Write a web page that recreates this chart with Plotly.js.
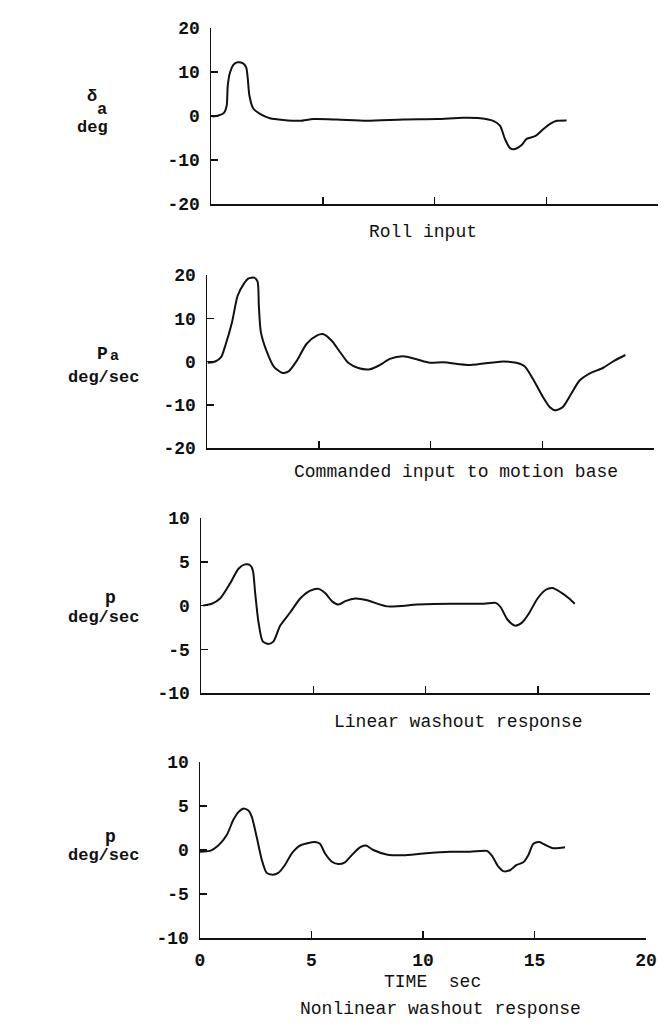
<!DOCTYPE html>
<html>
<head>
<meta charset="utf-8">
<script src="https://cdn.plot.ly/plotly-3.0.1.min.js"></script>
<style>html,body{margin:0;padding:0;background:#fff;}#chart{width:666px;height:1030px;}</style>
</head>
<body>
<div id="chart"></div>
<script>
// ---- Data ----
const rollTime = [0.07,0.33,0.58,0.70,0.75,0.85,1.0,1.18,1.42,1.57,1.64,1.72,1.89,2.19,2.64,3.24,3.98,4.58,5.62,6.96,8.6,10.1,11.29,12.04,12.63,12.93,13.15,13.38,13.6,13.9,14.12,14.5,14.8,15.17,15.47,15.91];
const rollInput = [-0.1,0.1,0.7,2.3,6.9,9.9,11.6,12.2,12.0,11.1,8.8,4.6,1.7,0.5,-0.5,-0.9,-1.1,-0.7,-0.8,-1.1,-0.8,-0.7,-0.4,-0.5,-1.1,-2.2,-5.2,-7.3,-7.5,-6.6,-5.2,-4.6,-3.3,-1.8,-1.1,-1.0];

const cmdTime = [0.03,0.37,0.63,0.82,1.12,1.37,1.64,1.86,2.11,2.26,2.32,2.41,2.68,2.98,3.35,3.65,4.02,4.46,4.91,5.21,5.58,5.95,6.32,6.77,7.29,7.74,8.18,8.78,9.38,9.97,10.57,11.76,13.24,13.84,14.21,14.58,15.03,15.33,15.6,15.92,16.29,16.67,17.11,17.71,18.23,18.72];
const cmdInput = [-0.3,0,1.0,3.7,9.1,15.2,17.9,19.2,19.4,18.5,12.9,6.8,2.2,-1.1,-2.6,-2.3,0.2,4.1,6.0,6.3,4.8,2.2,-0.3,-1.5,-1.8,-0.8,0.6,1.2,0.5,-0.3,-0.2,-0.8,0,-0.3,-1.1,-4.0,-8.2,-10.5,-11.3,-10.5,-7.5,-4.4,-2.8,-1.5,0.2,1.5];

const linTime = [0.1,0.48,0.85,1.29,1.67,1.96,2.19,2.31,2.41,2.56,2.75,3.01,3.23,3.53,3.97,4.42,4.87,5.24,5.54,5.83,6.13,6.43,6.88,7.4,8.29,9.63,11.12,12.6,13.13,13.35,13.65,13.99,14.32,14.61,14.99,15.36,15.65,16.03,16.4,16.65];
const linResp = [0,0.2,0.8,2.5,4.2,4.7,4.6,4.0,1.5,-1.9,-4.1,-4.4,-4.1,-2.3,-0.8,0.8,1.7,1.9,1.4,0.5,0.1,0.5,0.8,0.6,-0.1,0.1,0.2,0.2,0.3,-0.2,-1.6,-2.3,-1.9,-0.9,0.8,1.8,2.0,1.5,0.8,0.2];

const nonTime = [0,0.45,0.82,1.2,1.49,1.72,1.94,2.17,2.32,2.54,2.77,2.99,3.26,3.51,3.81,4.11,4.48,4.86,5.16,5.38,5.61,5.9,6.2,6.5,6.8,7.17,7.44,7.77,8.37,9.12,10.01,11.21,12.11,12.86,13.08,13.38,13.6,13.9,14.2,14.5,14.72,14.95,15.22,15.47,15.84,16.37];
const nonResp = [-0.2,-0.1,0.5,1.7,3.4,4.3,4.7,4.5,3.8,1.5,-1.1,-2.6,-2.8,-2.6,-1.7,-0.4,0.5,0.8,0.9,0.7,-0.4,-1.3,-1.6,-1.4,-0.6,0.3,0.5,0,-0.5,-0.6,-0.4,-0.2,-0.2,-0.1,-0.6,-1.9,-2.4,-2.3,-1.7,-1.4,-0.6,0.7,0.9,0.6,0.2,0.3];

const xTicks = [0,5,10,15,20];
const xTickText = ["0","5","10","15","20"];
const yTicksWide = [-20,-10,0,10,20];
const yTextWide = ["-20","-10","0","10","20"];
const yTicksNarrow = [-10,-5,0,5,10];
const yTextNarrow = ["-10","-5","0","5","10"];
const panelTitles = ["Roll input","Commanded input to motion base","Linear washout response","Nonlinear washout response"];
const timeLabel = "TIME\u00a0\u00a0sec";

// ---- Layout helpers ----
const W = 666, H = 1030;
const fx = p => p / W;
const fy = p => 1 - p / H;
const FONT = "Liberation Mono, Courier New, monospace";

function xAxis(l, r, anchor, showLabels) {
  return {
    domain: [fx(l), fx(r)], range: [0, 20], anchor: anchor,
    tickmode: "array", tickvals: xTicks, ticktext: xTickText,
    showticklabels: showLabels, ticks: "inside", ticklen: 7, tickwidth: 1.5,
    tickcolor: "#111", showline: true, linecolor: "#111", linewidth: 1.5,
    showgrid: false, zeroline: false, fixedrange: true, ticklabelstandoff: 5,
    tickfont: {family: FONT, size: 18, color: "#111", weight: "bold"}
  };
}
function yAxis(b, t, anchor, range, vals, text) {
  return {
    domain: [fy(b), fy(t)], range: range, anchor: anchor,
    tickmode: "array", tickvals: vals, ticktext: text,
    ticks: "inside", ticklen: 7, tickwidth: 1.5, tickcolor: "#111",
    showline: true, linecolor: "#111", linewidth: 1.5,
    showgrid: false, zeroline: false, fixedrange: true, ticklabelstandoff: 6,
    tickfont: {family: FONT, size: 18, color: "#111", weight: "bold"}
  };
}

const lineStyle = {color: "#111", width: 2, shape: "spline", smoothing: 0.7};
const traces = [
  {x: rollTime, y: rollInput, xaxis: "x", yaxis: "y", mode: "lines", line: lineStyle},
  {x: cmdTime, y: cmdInput, xaxis: "x2", yaxis: "y2", mode: "lines", line: lineStyle},
  {x: linTime, y: linResp, xaxis: "x3", yaxis: "y3", mode: "lines", line: lineStyle},
  {x: nonTime, y: nonResp, xaxis: "x4", yaxis: "y4", mode: "lines", line: lineStyle}
];

function ann(text, px, py, size, bold) {
  return {text: text, xref: "paper", yref: "paper", x: fx(px), y: fy(py),
    xanchor: "center", yanchor: "middle", showarrow: false,
    font: {family: FONT, size: size, color: "#111", weight: bold ? "bold" : "normal"}};
}

const annotations = [
  ann("δ", 92, 96, 17, true),
  ann("a", 102, 109, 17, true),
  ann("deg", 93, 127, 17, true),
  ann("P", 102, 354, 18, true),
  ann("a", 114, 357, 15, true),
  ann("deg/sec", 103, 378, 17, true),
  ann("p", 110, 598, 18, true),
  ann("deg/sec", 103, 617, 17, true),
  ann("p", 110, 837, 18, true),
  ann("deg/sec", 103, 855, 17, true),
  ann(panelTitles[0], 423, 232, 18, false),
  ann(panelTitles[1], 456, 472, 18, false),
  ann(panelTitles[2], 458, 722, 18, false),
  ann(timeLabel, 433, 982, 18, false),
  ann(panelTitles[3], 440, 1009, 18, false)
];

const layout = {
  width: W, height: H, margin: {l: 0, r: 0, t: 0, b: 0},
  paper_bgcolor: "#fff", plot_bgcolor: "rgba(0,0,0,0)", showlegend: false,
  xaxis: xAxis(211, 658, "y", false),
  yaxis: yAxis(204, 28, "x", [-20, 20], yTicksWide, yTextWide),
  xaxis2: xAxis(207, 654, "y2", false),
  yaxis2: yAxis(448, 275, "x2", [-20, 20], yTicksWide, yTextWide),
  xaxis3: xAxis(201, 650, "y3", false),
  yaxis3: yAxis(693, 518, "x3", [-10, 10], yTicksNarrow, yTextNarrow),
  xaxis4: xAxis(200, 646, "y4", true),
  yaxis4: yAxis(938, 762, "x4", [-10, 10], yTicksNarrow, yTextNarrow),
  annotations: annotations
};

Plotly.newPlot("chart", traces, layout, {staticPlot: true, displayModeBar: false});
</script>
</body>
</html>
